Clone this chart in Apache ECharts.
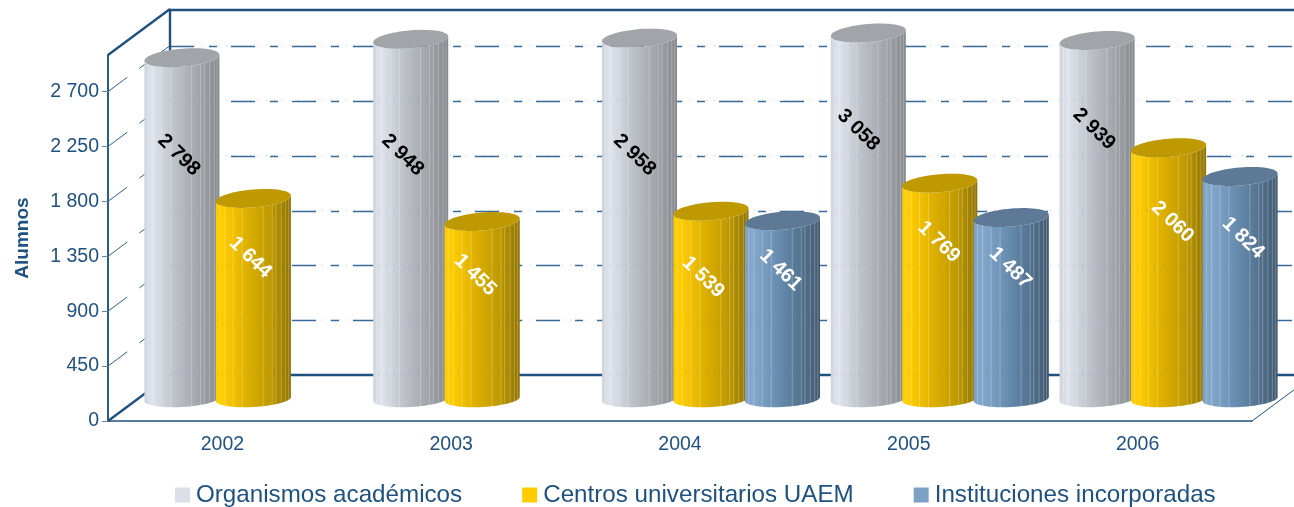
<!DOCTYPE html>
<html>
<head>
<meta charset="utf-8">
<style>
  html, body { margin: 0; padding: 0; background: #fff; }
  #chart { width: 1294px; height: 507px; }
</style>
</head>
<body>
<div id="chart"></div>
<script src="https://cdn.jsdelivr.net/npm/echarts@6/dist/echarts.min.js"></script>
<script>
const years = ['2002', '2003', '2004', '2005', '2006'];
const organismos = [2798, 2948, 2958, 3058, 2939];
const centros = [1644, 1455, 1539, 1769, 2060];
const instituciones = [null, null, 1461, 1487, 1824];
const yTicks = [0, 450, 900, 1350, 1800, 2250, 2700];
const axisMax = 3000;

// where the slanted value text sits on each cylinder, in axis units
const labelLevels = [
  [2000, 2000, 2000, 2205, 2213],
  [1160, 1016, 999, 1287, 1451],
  [null, null, 1057, 1074, 1320]
];
// and its sideways nudge in pixels
const labelShifts = [
  [-3, -8, -5, -10, -3],
  [-3, -7, -8, -1, 4],
  [0, 0, -2, -1, 3]
];

const blue = '#1f5180';
const depthX = 62, depthY = 46;
const dash = [24, 15, 8, 14];
const stripes = [0.05, 0.12, 0.23, 0.35, 0.63, 0.75, 0.8, 0.87, 0.93, 0.97];

const skins = [
  { top: '#a1a4a9', stops: ['#cfd4dc', '#dfe3eb', '#bcc1c8', '#a2a5aa', '#85888c'] },
  { top: '#bf9900', stops: ['#ffcc00', '#ffcc00', '#dcaf00', '#c09a00', '#8f7300'] },
  { top: '#5d7995', stops: ['#7da1c5', '#84a8cc', '#6a8fb2', '#557592', '#415970'] }
];
const textColors = ['#000', '#fff', '#fff'];

function fmt(v) {
  return String(v).replace(/\B(?=(\d{3})+$)/g, ' ');
}

// point on the slightly sheared ellipse that gives the cylinder ends
function rim(cx, cy, rx, ry, lean, a) {
  return [cx + rx * Math.cos(a), cy + ry * Math.sin(a) + lean * Math.cos(a)];
}

function cylinder(idx) {
  return function(params, api) {
    const v = api.value(1);
    if (isNaN(v)) return;
    const band = api.size([1, 0])[0];
    const slot = band * 0.3125;
    const rx = band * 0.164;
    const base = api.coord([api.value(0), 0]);
    const top = api.coord([api.value(0), Math.min(v, axisMax)]);
    const cx = base[0] + depthX / 2 + (idx - 1) * slot;
    const yb = base[1] - depthY / 2 + 1;
    const yt = top[1] - depthY / 2 + 1;
    const skin = skins[idx];

    const body = [];
    for (let i = 0; i <= 32; i++) body.push(rim(cx, yb, rx, 8, -2, Math.PI - Math.PI * i / 32));
    for (let i = 0; i <= 32; i++) body.push(rim(cx, yt, rx, 9, -3, Math.PI * i / 32));
    const lid = [];
    for (let i = 0; i < 64; i++) lid.push(rim(cx, yt, rx, 9, -3, Math.PI * 2 * i / 64));

    const kids = [{
      type: 'polygon',
      shape: { points: body },
      style: {
        fill: {
          type: 'linear', x: 0, y: 0, x2: 1, y2: 0,
          colorStops: [0, 0.1, 0.42, 0.72, 1].map((o, i) => ({ offset: o, color: skin.stops[i] }))
        }
      }
    }];
    stripes.forEach(function(f) {
      const a = Math.acos(2 * f - 1);
      const p1 = rim(cx, yt, rx, 9, -3, a);
      const p2 = rim(cx, yb, rx, 8, -2, a);
      kids.push({
        type: 'line',
        shape: { x1: p1[0], y1: p1[1], x2: p2[0], y2: p2[1] },
        style: { stroke: 'rgba(255,255,255,0.25)', lineWidth: 1 }
      });
    });
    kids.push({ type: 'polygon', shape: { points: lid }, style: { fill: skin.top } });

    const level = api.coord([api.value(0), labelLevels[idx][params.dataIndex]]);
    kids.push({
      type: 'text',
      x: cx + labelShifts[idx][params.dataIndex],
      y: level[1] - depthY / 2 + 1,
      rotation: -0.77,
      z2: 5,
      style: {
        text: fmt(v),
        fill: textColors[idx],
        font: 'bold 20px "Liberation Sans", Arial, sans-serif',
        align: 'center',
        verticalAlign: 'middle'
      }
    });
    return { type: 'group', children: kids };
  };
}

// the slanted edges and the dashed lines on the left wall
function frame(params, api) {
  const c = params.coordSys;
  const y = api.coord([0, api.value(1)])[1];
  const kids = [];
  if (api.value(1) > 0) {
    kids.push({
      type: 'line',
      shape: { x1: c.x, y1: y, x2: c.x + depthX, y2: y - depthY },
      style: { stroke: '#2f6090', lineWidth: 1, lineDash: dash }
    });
  }
  if (params.dataIndex === 0) {
    const heavy = { stroke: blue, lineWidth: 2.4 };
    const right = c.x + c.width, bottom = c.y + c.height;
    kids.push(
      { type: 'line', shape: { x1: c.x, y1: bottom, x2: c.x + depthX, y2: bottom - depthY }, style: heavy },
      { type: 'line', shape: { x1: c.x, y1: c.y, x2: c.x + depthX, y2: c.y - depthY }, style: heavy },
      { type: 'line', shape: { x1: right, y1: bottom, x2: right + depthX, y2: bottom - depthY }, style: { stroke: blue, lineWidth: 1 } }
    );
  }
  return { type: 'group', children: kids };
}

// back wall lines faintly showing through the cylinders
function ghost(params, api) {
  const c = params.coordSys;
  const y = api.coord([0, api.value(1)])[1] - depthY;
  return {
    type: 'line',
    shape: { x1: c.x + depthX, y1: y, x2: c.x + c.width, y2: y },
    style: { stroke: 'rgba(31,81,128,0.28)', lineWidth: 1, lineDash: [1, 7] }
  };
}

const chart = echarts.init(document.getElementById('chart'));

function bars(name, values, idx, legendColor) {
  return {
    name: name,
    type: 'custom',
    xAxisIndex: 0,
    yAxisIndex: 0,
    renderItem: cylinder(idx),
    itemStyle: { color: legendColor },
    encode: { x: 0, y: 1 },
    data: values.map((v, i) => [i, v])
  };
}

chart.setOption({
  animation: false,
  backgroundColor: '#fff',
  textStyle: { fontFamily: '"Liberation Sans", Arial, sans-serif' },
  grid: [
    { left: 108, right: 42, top: 55, bottom: 86 },
    { left: 170, right: -20, top: 10, bottom: 132 }
  ],
  legend: {
    left: 175,
    top: 483,
    padding: 0,
    data: ['Organismos académicos', 'Centros universitarios UAEM', 'Instituciones incorporadas'],
    icon: 'rect',
    itemWidth: 15,
    itemHeight: 15,
    itemGap: 60,
    textStyle: { color: blue, fontSize: 24.2, padding: [0, 0, 0, 1] }
  },
  xAxis: [
    {
      gridIndex: 0,
      type: 'category',
      data: years,
      axisLine: { lineStyle: { color: blue, width: 1.5 } },
      axisTick: { length: 7, lineStyle: { color: '#5f86a8', width: 1 } },
      axisLabel: { color: blue, fontSize: 19.5, margin: 14 }
    },
    {
      gridIndex: 1,
      type: 'value',
      position: 'bottom',
      min: 0,
      max: 1,
      axisLine: { onZero: false, lineStyle: { color: blue, width: 2.4 } },
      axisTick: { show: false },
      axisLabel: { show: false },
      splitLine: { show: false }
    },
    {
      gridIndex: 1,
      type: 'value',
      position: 'top',
      min: 0,
      max: 1,
      axisLine: { onZero: false, lineStyle: { color: blue, width: 2.4 } },
      axisTick: { show: false },
      axisLabel: { show: false },
      splitLine: { show: false }
    }
  ],
  yAxis: [
    {
      gridIndex: 0,
      type: 'value',
      min: 0,
      max: axisMax,
      name: 'Alumnos',
      nameLocation: 'middle',
      nameGap: 76,
      nameRotate: 90,
      nameTextStyle: { color: blue, fontSize: 19, fontWeight: 'bold' },
      axisLine: { show: true, onZero: false, lineStyle: { color: '#2a5d8c', width: 2 } },
      axisTick: { show: true, length: 6, customValues: yTicks, lineStyle: { color: '#5f86a8', width: 1 } },
      axisLabel: { color: blue, fontSize: 19.5, margin: 9, customValues: yTicks, formatter: fmt },
      splitLine: { show: false }
    },
    {
      gridIndex: 1,
      type: 'value',
      min: 0,
      max: axisMax,
      interval: 450,
      axisLine: { show: true, onZero: false, lineStyle: { color: blue, width: 2.4 } },
      axisTick: { show: false },
      axisLabel: { show: false },
      splitLine: {
        show: true,
        showMinLine: false,
        showMaxLine: false,
        lineStyle: { color: '#3a6a98', width: 1.4, type: dash }
      }
    }
  ],
  series: [
    {
      type: 'custom',
      xAxisIndex: 0,
      yAxisIndex: 0,
      silent: true,
      renderItem: frame,
      encode: { y: 1 },
      data: yTicks.map(t => [0, t])
    },
    bars('Organismos académicos', organismos, 0, '#dbe0e8'),
    bars('Centros universitarios UAEM', centros, 1, '#ffcc00'),
    bars('Instituciones incorporadas', instituciones, 2, '#7da1c5'),
    {
      type: 'custom',
      xAxisIndex: 0,
      yAxisIndex: 0,
      silent: true,
      renderItem: ghost,
      encode: { y: 1 },
      data: yTicks.map(t => [0, t])
    }
  ]
});
</script>
</body>
</html>
